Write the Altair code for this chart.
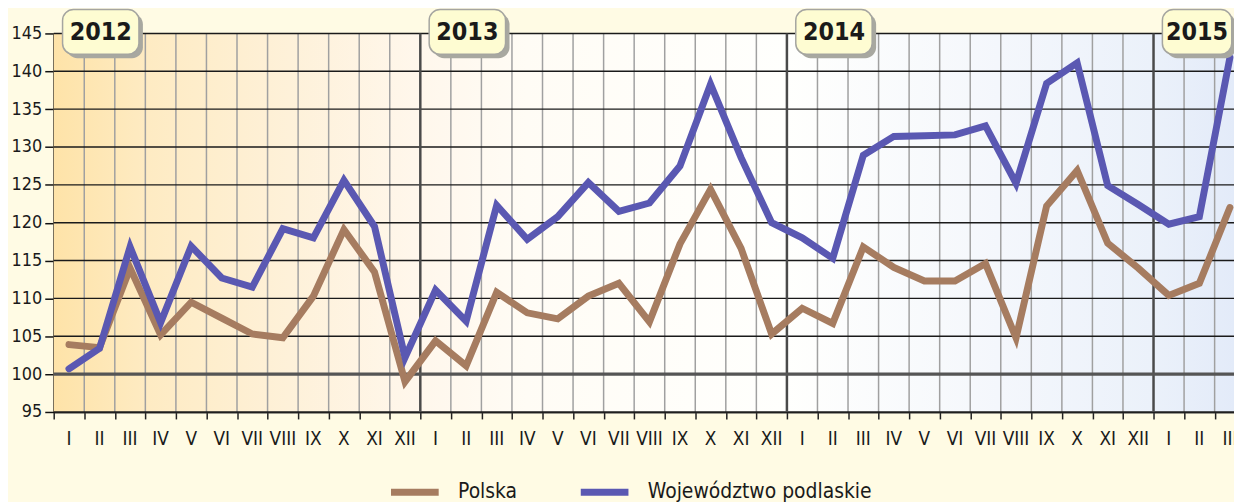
import altair as alt
import pandas as pd

roman = ["I", "II", "III", "IV", "V", "VI", "VII", "VIII", "IX", "X", "XI", "XII"]
month_labels = roman * 3 + ["I", "II", "III"]
years = ["2012", "2013", "2014", "2015"]

polska = [103.9, 103.5, 114.0, 105.2, 109.5, 107.4, 105.3, 104.8, 110.3, 119.1, 113.5, 99.0,
          104.4, 101.1, 110.8, 108.1, 107.3, 110.3, 112.0, 106.9, 117.2, 124.4, 116.6, 105.3,
          108.7, 106.7, 116.8, 114.1, 112.3, 112.3, 114.6, 104.8, 122.2, 126.9, 117.3, 114.0,
          110.4, 112.0, 122.0]
podlaskie = [100.7, 103.4, 116.8, 106.8, 116.9, 112.7, 111.5, 119.2, 118.0, 125.6, 119.5, 102.2,
             111.1, 107.0, 122.3, 117.8, 120.8, 125.3, 121.5, 122.6, 127.5, 138.3, 128.6, 120.0,
             118.0, 115.3, 128.9, 131.4, 131.5, 131.6, 132.8, 125.2, 138.4, 141.1, 124.9, 122.4,
             119.8, 120.8, 141.8]

y_ticks = [95, 100, 105, 110, 115, 120, 125, 130, 135, 140, 145]
series_names = ["Polska", "Województwo podlaskie"]
series_colors = ["#A67C60", "#5A58B2"]

W, H = 1188, 381
PX_PER_MONTH = 30.75
XMAX = W / PX_PER_MONTH
FONT = "'Liberation Sans Narrow', 'DejaVu Sans Condensed', 'Liberation Sans', sans-serif"

xs = alt.Scale(domain=[0, XMAX], nice=False, zero=False)
ys = alt.Scale(domain=[95, 145], nice=False, zero=False)

x_axis = alt.Axis(values=list(range(0, 39)), labels=False, title=None, grid=False,
                  tickSize=7, tickColor="#222", tickWidth=1.5,
                  domainColor="#333", domainWidth=2)
y_axis = alt.Axis(values=y_ticks, title=None, grid=False, tickSize=9, tickColor="#111",
                  tickWidth=1.5, domainColor="#111", domainWidth=2, labelPadding=3,
                  labelFontSize=18, labelColor="#1a1a1a", labelFont=FONT,
                  labelOverlap=False, labelBound=False, labelFlush=False)

rows = []
for i in range(len(month_labels)):
    rows.append({"m": i + 0.5, "v": polska[i], "s": series_names[0]})
    rows.append({"m": i + 0.5, "v": podlaskie[i], "s": series_names[1]})
lines_df = pd.DataFrame(rows)

labels_df = pd.DataFrame({"m": [i + 0.5 for i in range(len(month_labels))], "lab": month_labels})
month_b = pd.DataFrame({"b": [i for i in range(1, 39) if i % 12 != 0]})
year_b = pd.DataFrame({"b": [12, 24, 36]})
hgrid = pd.DataFrame({"y": [v for v in y_ticks if v != 100]})
base100 = pd.DataFrame({"y": [100]})

box_w = [2.5, 2.5, 2.5, 2.27]
box_left = [12 * k + 0.29 for k in range(4)]
ybox = pd.DataFrame({"year": years,
                     "x0": box_left,
                     "x1": [l + w for l, w in zip(box_left, box_w)],
                     "xc": [l + w / 2 for l, w in zip(box_left, box_w)],
                     "sx0": [l + 0.13 for l in box_left],
                     "sx1": [l + w + 0.13 for l, w in zip(box_left, box_w)]})

grad = alt.Gradient(
    gradient="linear", x1=0, x2=1, y1=0, y2=0,
    stops=[
        alt.GradientStop(color="#FEE3A8", offset=0.0),
        alt.GradientStop(color="#FEEBC3", offset=0.08),
        alt.GradientStop(color="#FEF1D9", offset=0.2),
        alt.GradientStop(color="#FFF7EC", offset=0.31),
        alt.GradientStop(color="#FFFCF5", offset=0.4),
        alt.GradientStop(color="#FFFFFD", offset=0.62),
        alt.GradientStop(color="#F4F7FC", offset=0.8),
        alt.GradientStop(color="#EBF1FA", offset=0.93),
        alt.GradientStop(color="#E3EBF9", offset=1.0),
    ],
)

bg = alt.Chart(pd.DataFrame({"a": [0]})).mark_rect(color=grad).encode(
    x=alt.value(0), x2=alt.value(W), y=alt.value(0), y2=alt.value(H)
)

vgrid = alt.Chart(month_b).mark_rule(color="#A0A0A0", strokeWidth=1.5).encode(
    x=alt.X("b:Q", scale=xs, axis=x_axis)
)

hg = alt.Chart(hgrid).mark_rule(color="#1a1a1a", strokeWidth=1.4).encode(
    y=alt.Y("y:Q", scale=ys, axis=y_axis)
)

yrules = alt.Chart(year_b).mark_rule(color="#4a4a4a", strokeWidth=2.5).encode(
    x=alt.X("b:Q", scale=xs, axis=x_axis)
)

r100 = alt.Chart(base100).mark_rule(color="#555555", strokeWidth=3.5).encode(
    y=alt.Y("y:Q", scale=ys, axis=y_axis)
)

lines = alt.Chart(lines_df).mark_line(strokeWidth=7, strokeCap="round").encode(
    x=alt.X("m:Q", scale=xs, axis=x_axis),
    y=alt.Y("v:Q", scale=ys, axis=y_axis),
    color=alt.Color("s:N", scale=alt.Scale(domain=series_names, range=series_colors),
                    legend=alt.Legend(title=None, orient="none", legendX=336, legendY=434,
                                      direction="horizontal", symbolType="stroke",
                                      symbolSize=2304, symbolStrokeWidth=7,
                                      labelFontSize=21, labelFont=FONT, labelColor="#1a1a1a",
                                      labelOffset=16, columnPadding=49, labelLimit=500)),
)

shadow = alt.Chart(ybox).mark_rect(color="#A8A8A0", cornerRadius=11).encode(
    x=alt.X("sx0:Q", scale=xs, axis=x_axis), x2="sx1:Q", y=alt.value(-20), y2=alt.value(25)
)
box = alt.Chart(ybox).mark_rect(fill="#FEFCD2", stroke="#A5A5A0", strokeWidth=1.5,
                                cornerRadius=11).encode(
    x=alt.X("x0:Q", scale=xs, axis=x_axis), x2="x1:Q", y=alt.value(-24), y2=alt.value(21)
)
ytext = alt.Chart(ybox).mark_text(font=FONT, fontSize=25, fontWeight="bold", color="#1a1a1a",
                                  baseline="middle").encode(
    x=alt.X("xc:Q", scale=xs, axis=x_axis), y=alt.value(-1), text="year:N"
)

xlab = alt.Chart(labels_df).mark_text(font=FONT, fontSize=19, color="#1a1a1a",
                                      baseline="middle").encode(
    x=alt.X("m:Q", scale=xs, axis=x_axis), y=alt.value(H + 27), text="lab:N"
)

chart = alt.layer(bg, vgrid, hg, yrules, r100, lines, shadow, box, ytext, xlab).properties(
    width=W, height=H,
    autosize=alt.AutoSizeParams(type="none"),
    padding={"left": 46, "top": 24, "right": 0, "bottom": 89},
    background="#FFFBE4",
).configure_view(stroke=None).configure(font=FONT)

chart.save("out.html", embed_options={"renderer": "svg", "actions": False})
